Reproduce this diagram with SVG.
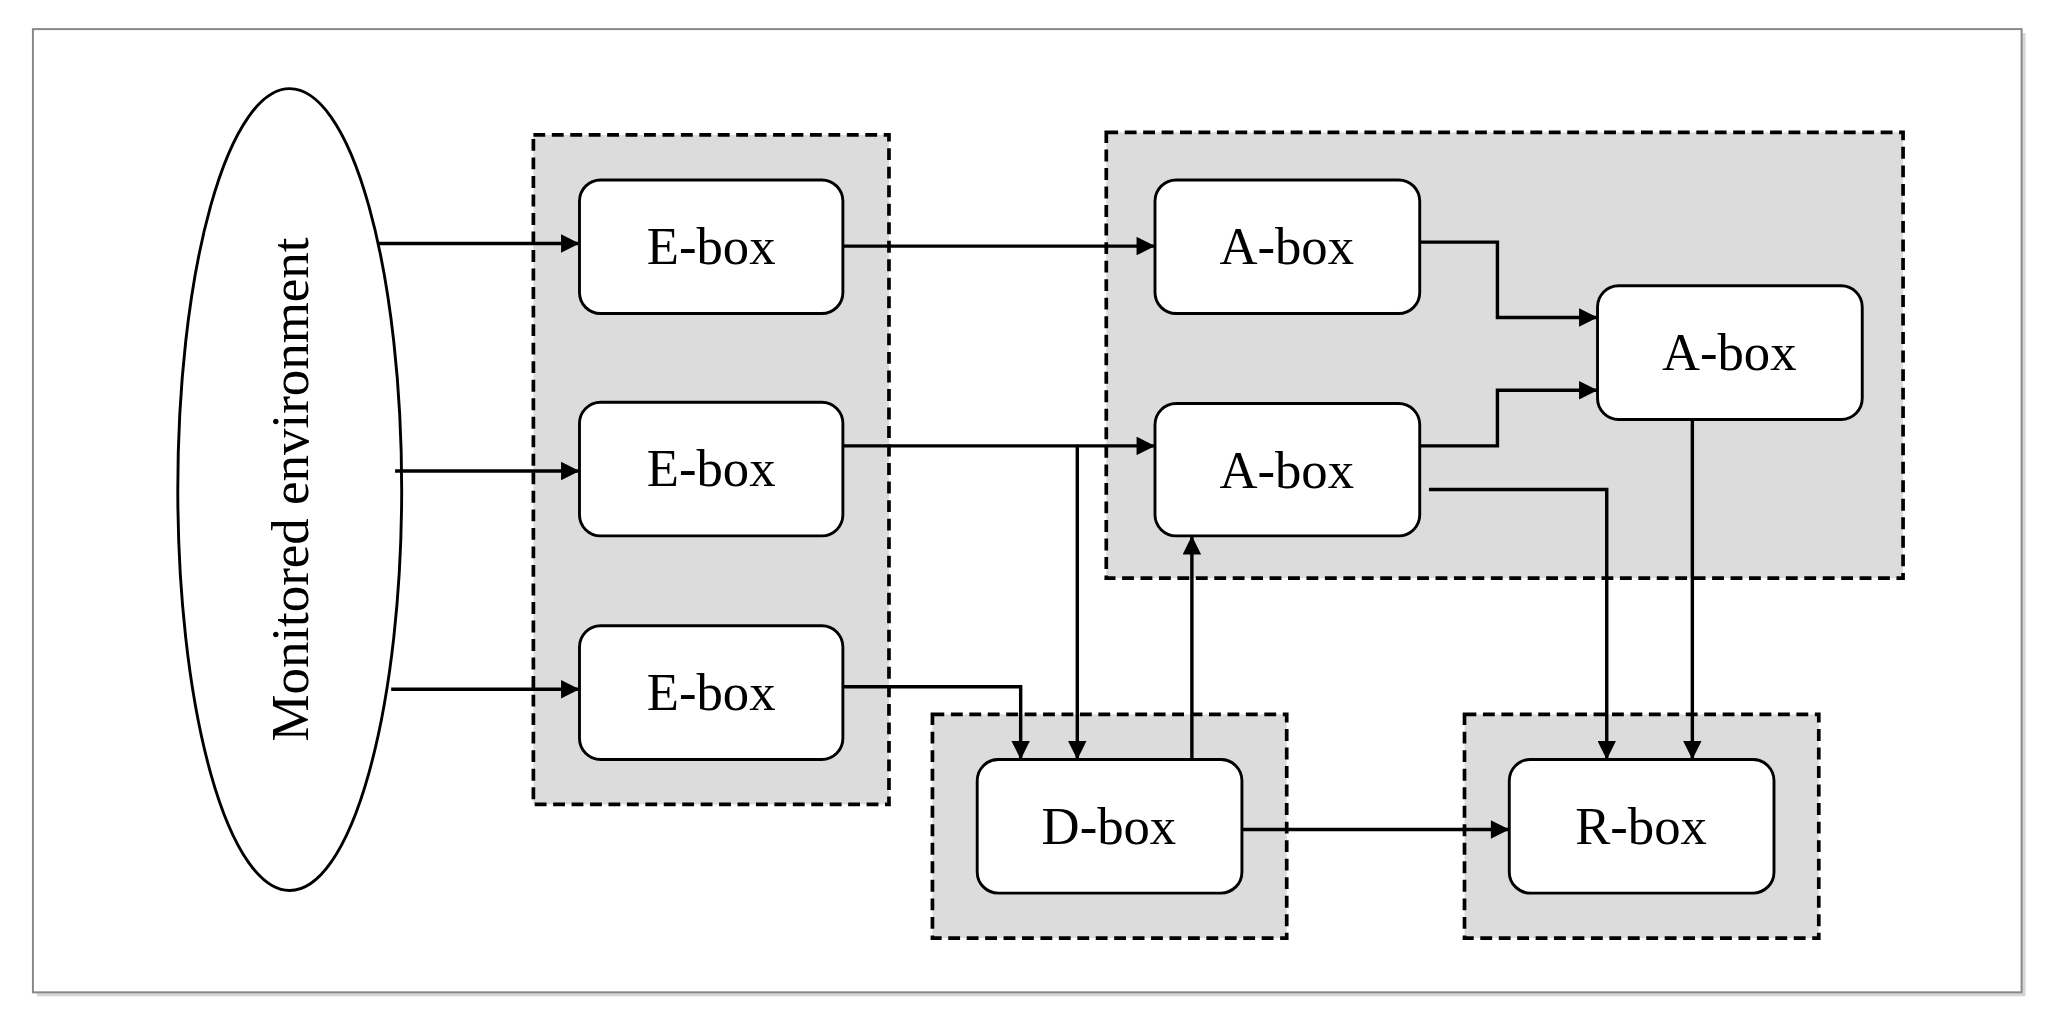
<svg xmlns="http://www.w3.org/2000/svg" width="2064" height="1034" viewBox="0 0 2064 1034">
<style>
.grp{fill:#dcdcdc;stroke:#000;stroke-width:2.8;stroke-dasharray:9 5}
.box{fill:#fff;stroke:#000;stroke-width:2.2}
.lbl{font-family:"Liberation Serif",serif;font-size:40px;text-anchor:middle;dominant-baseline:central}
.c{fill:none;stroke:#000;stroke-width:2.6}
</style>
<defs><marker id="a" viewBox="0 0 10 10" refX="10" refY="5" markerWidth="20" markerHeight="14" markerUnits="userSpaceOnUse" orient="auto"><path d="M0,0L10,5L0,10z" fill="#000"/></marker></defs>
<rect width="2064" height="1034" fill="#fff"/>
<g transform="scale(1.317 1.3231)">
<rect x="28" y="25" width="1510" height="728" fill="#999" opacity="0.4"/>
<rect x="25" y="22" width="1510" height="728" fill="#fff" stroke="#888" stroke-width="1.5"/>
<g id="env"><ellipse cx="220" cy="370" rx="85" ry="303" fill="#fff" stroke="#000" stroke-width="2.2"/>
<text class="lbl" transform="translate(220,370) rotate(-90)">Monitored environment</text></g>
<g id="egroup"><rect class="grp" x="405" y="102" width="270" height="506"/></g>
<g id="agroup"><rect class="grp" x="840" y="100" width="605" height="337"/></g>
<g id="dgroup"><rect class="grp" x="708" y="540" width="269" height="169"/></g>
<g id="rgroup"><rect class="grp" x="1112" y="540" width="269" height="169"/></g>
<g id="e1"><rect class="box" x="440" y="136" width="200" height="101" rx="16"/><text class="lbl" x="540" y="186">E-box</text></g>
<g id="e2"><rect class="box" x="440" y="304" width="200" height="101" rx="16"/><text class="lbl" x="540" y="354">E-box</text></g>
<g id="e3"><rect class="box" x="440" y="473" width="200" height="101" rx="16"/><text class="lbl" x="540" y="523">E-box</text></g>
<g id="a1"><rect class="box" x="877" y="136" width="201" height="101" rx="16"/><text class="lbl" x="977" y="186">A-box</text></g>
<g id="a2"><rect class="box" x="877" y="305" width="201" height="100" rx="16"/><text class="lbl" x="977" y="355">A-box</text></g>
<g id="a3"><rect class="box" x="1213" y="216" width="201" height="101" rx="16"/><text class="lbl" x="1313" y="266">A-box</text></g>
<g id="d"><rect class="box" x="742" y="574" width="201" height="101" rx="16"/><text class="lbl" x="842" y="624">D-box</text></g>
<g id="r"><rect class="box" x="1146" y="574" width="201" height="101" rx="16"/><text class="lbl" x="1246" y="624">R-box</text></g>
<g id="connectors">
<path class="c" marker-end="url(#a)" d="M287,184H440"/>
<path class="c" marker-end="url(#a)" d="M300,356H440"/>
<path class="c" marker-end="url(#a)" d="M297,521H440"/>
<path class="c" marker-end="url(#a)" d="M640,186H877"/>
<path class="c" marker-end="url(#a)" d="M640,337H877"/>
<path class="c" marker-end="url(#a)" d="M818,337V574"/>
<path class="c" marker-end="url(#a)" d="M640,519H775V574"/>
<path class="c" marker-end="url(#a)" d="M1078,183H1137V240H1213"/>
<path class="c" marker-end="url(#a)" d="M1078,337H1137V295H1213"/>
<path class="c" marker-end="url(#a)" d="M1085,370H1220V574"/>
<path class="c" marker-end="url(#a)" d="M1285,317V574"/>
<path class="c" marker-end="url(#a)" d="M905,574V405"/>
<path class="c" marker-end="url(#a)" d="M943,627H1146"/>
</g>
</g>
</svg>
